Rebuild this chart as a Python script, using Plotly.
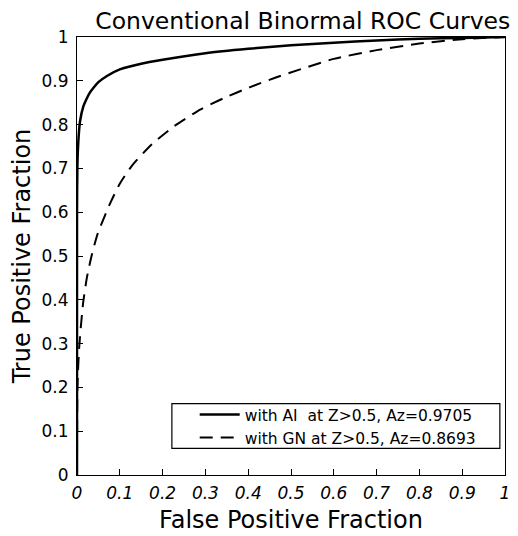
import plotly.graph_objs as go

# values
fpf_ai = [0.0, 0.0, 0.001, 0.003, 0.007, 0.015, 0.022, 0.03, 0.04, 0.05, 0.07, 0.1, 0.15, 0.2,
          0.3, 0.4, 0.5, 0.6, 0.7, 0.8, 0.9, 1.0]
tpf_ai = [0.0, 0.6, 0.71, 0.76, 0.807, 0.842, 0.858, 0.873, 0.886, 0.897, 0.911, 0.926, 0.939, 0.948,
          0.963, 0.973, 0.981, 0.987, 0.992, 0.996, 0.998, 1.0]

fpf_gn = [0.0, 0.001, 0.005, 0.014, 0.023, 0.034, 0.048, 0.075, 0.1, 0.129, 0.175, 0.228,
          0.289, 0.342, 0.403, 0.463, 0.524, 0.6, 0.7, 0.8, 0.9, 1.0]
tpf_gn = [0.0, 0.2, 0.29, 0.39, 0.45, 0.50, 0.55, 0.615, 0.665, 0.707, 0.755, 0.797,
          0.835, 0.86, 0.885, 0.907, 0.927, 0.95, 0.97, 0.985, 0.995, 1.0]

labels = ['with AI  at Z>0.5, Az=0.9705', 'with GN at Z>0.5, Az=0.8693']
ticks = [0, 0.1, 0.2, 0.3, 0.4, 0.5, 0.6, 0.7, 0.8, 0.9, 1]
tick_text = ['0', '0.1', '0.2', '0.3', '0.4', '0.5', '0.6', '0.7', '0.8', '0.9', '1']

font = 'DejaVu Sans, Verdana, sans-serif'

fig = go.Figure()

fig.add_trace(go.Scatter(
    x=fpf_ai, y=tpf_ai, mode='lines', name=labels[0],
    line=dict(color='black', width=2.5, shape='spline', smoothing=0.6)
))
fig.add_trace(go.Scatter(
    x=fpf_gn, y=tpf_gn, mode='lines', name=labels[1],
    line=dict(color='black', width=2, dash='13px,8px', shape='spline', smoothing=0.6)
))

axis_common = dict(
    range=[0, 1], tickvals=ticks, ticktext=tick_text,
    ticks='inside', ticklen=6, tickcolor='black', tickwidth=1,
    showline=True, linecolor='black', linewidth=1.2, mirror=True,
    showgrid=False, zeroline=False, ticklabeloverflow='allow',
)

# legend frame, drawn separately so it can be wider than plotly's own box
fig.add_shape(type='rect', xref='paper', yref='paper',
              x0=0.2217, x1=0.988, y0=0.061, y1=0.163,
              line=dict(color='black', width=1.2), fillcolor='white', layer='above')

# page body adds an 8px margin, so the figure is a bit smaller than the window
fig.update_layout(
    width=510, height=528,
    margin=dict(l=69, r=8, t=29, b=57),
    plot_bgcolor='white', paper_bgcolor='white',
    font=dict(family=font, color='black'),
    title=dict(text='Conventional Binormal ROC Curves', x=0.578, xanchor='center',
               y=0.975, yanchor='middle', font=dict(size=23.5, color='black')),
    xaxis=dict(axis_common, title=dict(text='False Positive Fraction', font=dict(size=24), standoff=9),
               tickfont=dict(size=17, style='italic'), ticklabelstandoff=2),
    yaxis=dict(axis_common, title=dict(text='True Positive Fraction', font=dict(size=24), standoff=8),
               tickfont=dict(size=17), ticklabelstandoff=4),
    showlegend=True,
    legend=dict(x=0.275, xanchor='left', y=0.111, yanchor='middle',
                borderwidth=0, bgcolor='rgba(0,0,0,0)',
                font=dict(size=15.5, color='black'), tracegroupgap=0,
                itemwidth=40),
)

fig.write_html("out.html")
